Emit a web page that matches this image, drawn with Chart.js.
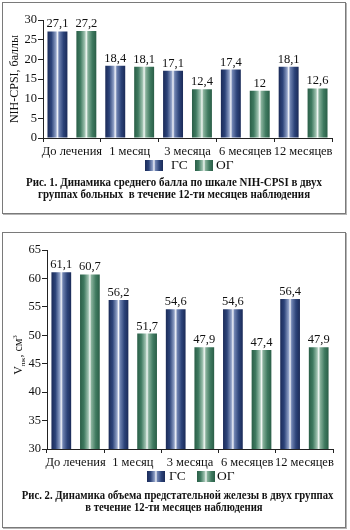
<!DOCTYPE html>
<html><head><meta charset="utf-8">
<script src="https://cdn.jsdelivr.net/npm/chart.js@4.4.1/dist/chart.umd.min.js"></script>
<style>
html,body{margin:0;padding:0;background:#fff;}
body{width:350px;height:530px;position:relative;overflow:hidden;font-family:"Liberation Serif","Times New Roman",serif;color:#111;}
.box{position:absolute;left:2px;width:342px;border:1px solid #7a7a7a;box-shadow:1px 1px 0 #b5b5b5;}
canvas{position:absolute;left:3px;}
.sw{position:absolute;width:18px;height:11px;}
.gs{background:linear-gradient(to right,#1b2b58 0%,#2c4379 20%,#8fa0c6 42%,#f2f4fa 50%,#6f83b1 58%,#2c4379 80%,#1b2b58 100%);}
.og{background:linear-gradient(to right,#2a5e47 0%,#3f7a60 20%,#9fc2b0 42%,#f3f8f5 50%,#86b09a 58%,#3f7a60 80%,#2a5e47 100%);}
.lt{position:absolute;font-size:13.5px;line-height:14px;}
.cap{position:absolute;left:3px;width:342px;text-align:center;font-weight:bold;font-size:12px;line-height:12px;white-space:nowrap;transform-origin:50% 50%;}
</style></head>
<body>
<div class="box" style="top:2px;height:210px;"></div>
<div class="box" style="top:232px;height:294px;"></div>
<canvas id="c1" width="342" height="160" style="top:3px;"></canvas>
<canvas id="c2" width="342" height="240" style="top:233px;"></canvas>

<div class="sw gs" style="left:145px;top:160px;"></div><div class="lt" style="left:171px;top:158px;">ГС</div>
<div class="sw og" style="left:195px;top:160px;"></div><div class="lt" style="left:216px;top:158px;">ОГ</div>
<div class="cap" style="top:176px;transform:scaleX(0.91);">Рис. 1. Динамика среднего балла по шкале NIH-CPSI в двух<br>группах больных&nbsp; в течение 12-ти месяцев наблюдения</div>

<div class="sw gs" style="left:147px;top:471px;"></div><div class="lt" style="left:169px;top:469px;">ГС</div>
<div class="sw og" style="left:197px;top:471px;"></div><div class="lt" style="left:217px;top:469px;">ОГ</div>
<div class="cap" style="top:490px;line-height:11.5px;transform:scaleX(0.89);">Рис. 2. Динамика объема предстательной железы в двух группах<br>в течение 12-ти месяцев наблюдения</div>

<script>
const categories = ['До лечения', '1 месяц', '3 месяца', '6 месяцев', '12 месяцев'];
const seriesNames = ['ГС', 'ОГ'];
// Fig. 1: NIH-CPSI score
const gs1 = [27.1, 18.4, 17.1, 17.4, 18.1];
const og1 = [27.2, 18.1, 12.4, 12, 12.6];
const yTicks1 = [0, 5, 10, 15, 20, 25, 30];
// Fig. 2: prostate volume (bar heights as drawn; printed labels below)
const gs2 = [61.1, 56.2, 54.6, 54.6, 56.4];
const og2 = [60.7, 50.3, 47.9, 47.4, 47.9];
const gs2Text = ['61,1', '56,2', '54,6', '54,6', '56,4'];
const og2Text = ['60,7', '51,7', '47,9', '47,4', '47,9'];
const yTicks2 = [30, 35, 40, 45, 50, 55, 60, 65];

const FONT = "'Liberation Serif','Times New Roman',serif";
Chart.defaults.font.family = FONT;
Chart.defaults.color = '#111';

const CAT_PCT = 1.0, BAR_PCT = 0.69;
const blueStops = [[0,'#1b2b58'],[0.2,'#2c4379'],[0.42,'#8fa0c6'],[0.5,'#f2f4fa'],[0.58,'#6f83b1'],[0.8,'#2c4379'],[1,'#1b2b58']];
const greenStops = [[0,'#2a5e47'],[0.2,'#3f7a60'],[0.42,'#9fc2b0'],[0.5,'#f3f8f5'],[0.58,'#86b09a'],[0.8,'#3f7a60'],[1,'#2a5e47']];

function gradFn(stops, fallback) {
  return function (ctx) {
    const chart = ctx.chart;
    if (!chart.chartArea || ctx.type !== 'data') return fallback;
    const xs = chart.scales.x;
    const n = chart.data.labels.length;
    const catW = xs.width / n;
    const c = xs.getPixelForValue(ctx.dataIndex);
    const slot = catW * CAT_PCT / 2;
    const bc = c + (ctx.datasetIndex - 0.5) * slot;
    const bw = slot * BAR_PCT;
    const g = chart.ctx.createLinearGradient(bc - bw / 2, 0, bc + bw / 2, 0);
    stops.forEach(s => g.addColorStop(s[0], s[1]));
    return g;
  };
}

const valueLabels = {
  id: 'valueLabels',
  afterDatasetsDraw(chart, args, opts) {
    const ctx = chart.ctx;
    ctx.save();
    ctx.font = '12.5px ' + FONT;
    ctx.fillStyle = '#111';
    ctx.textAlign = 'center';
    ctx.textBaseline = 'bottom';
    chart.data.datasets.forEach((ds, di) => {
      const meta = chart.getDatasetMeta(di);
      meta.data.forEach((el, i) => {
        const t = ds.labelsText ? ds.labelsText[i] : String(ds.data[i]).replace('.', ',');
        ctx.fillText(t, el.x, el.y - 1);
      });
    });
    ctx.restore();
  }
};

const vTitle = {
  id: 'vTitle',
  afterDraw(chart, args, opts) {
    if (!opts.show) return;
    const ctx = chart.ctx;
    const parts = [['V', 12, 0], ['пж', 7, 3], [', см', 12, 0], ['3', 7, -5]];
    ctx.save();
    ctx.fillStyle = '#111';
    ctx.textBaseline = 'alphabetic';
    let total = 0;
    parts.forEach(p => { ctx.font = p[1] + 'px ' + FONT; total += ctx.measureText(p[0]).width; });
    ctx.translate(opts.x, opts.y);
    ctx.rotate(-Math.PI / 2);
    let x = -total / 2;
    parts.forEach(p => {
      ctx.font = p[1] + 'px ' + FONT;
      ctx.fillText(p[0], x, 4 + p[2]);
      x += ctx.measureText(p[0]).width;
    });
    ctx.restore();
  }
};

function makeChart(id, gs, og, gsText, ogText, yMin, yMax, yTitle, yW, padRight, xH, showV) {
  const axisColor = '#222';
  return new Chart(document.getElementById(id), {
    type: 'bar',
    data: {
      labels: categories,
      datasets: [
        { label: seriesNames[0], data: gs, labelsText: gsText, backgroundColor: gradFn(blueStops, '#1b2b58'),
          categoryPercentage: CAT_PCT, barPercentage: BAR_PCT, borderWidth: 0 },
        { label: seriesNames[1], data: og, labelsText: ogText, backgroundColor: gradFn(greenStops, '#2a5e47'),
          categoryPercentage: CAT_PCT, barPercentage: BAR_PCT, borderWidth: 0 }
      ]
    },
    options: {
      responsive: false,
      animation: false,
      layout: { padding: { left: 0, top: 17, right: padRight, bottom: 0 } },
      plugins: { legend: { display: false }, tooltip: { enabled: false }, vTitle: { show: showV, x: 15, y: 122 } },
      scales: {
        x: {
          offset: true,
          grid: { drawOnChartArea: false, tickLength: 4, color: axisColor, offset: true },
          border: { color: axisColor, width: 1 },
          ticks: { font: { size: 12.5 }, color: '#111', maxRotation: 0, minRotation: 0, autoSkip: false, padding: 2 },
          afterFit: s => { s.height = xH; }
        },
        y: {
          min: yMin, max: yMax,
          grid: { drawOnChartArea: false, tickLength: 5, color: axisColor },
          border: { color: axisColor, width: 1 },
          ticks: { stepSize: 5, font: { size: 12.5 }, color: '#111', padding: 1 },
          title: { display: !!yTitle, text: yTitle || '', font: { size: 12 }, color: '#111', padding: { top: 5, bottom: 0 } },
          afterFit: s => { s.width = yW; }
        }
      }
    },
    plugins: [valueLabels, vTitle]
  });
}

makeChart('c1', gs1, og1, null, null, yTicks1[0], yTicks1[yTicks1.length - 1], 'NIH-CPSI, баллы', 40, 13, 25, false);
makeChart('c2', gs2, og2, gs2Text, og2Text, yTicks2[0], yTicks2[yTicks2.length - 1], null, 44, 12, 24, true);
</script>
</body></html>
